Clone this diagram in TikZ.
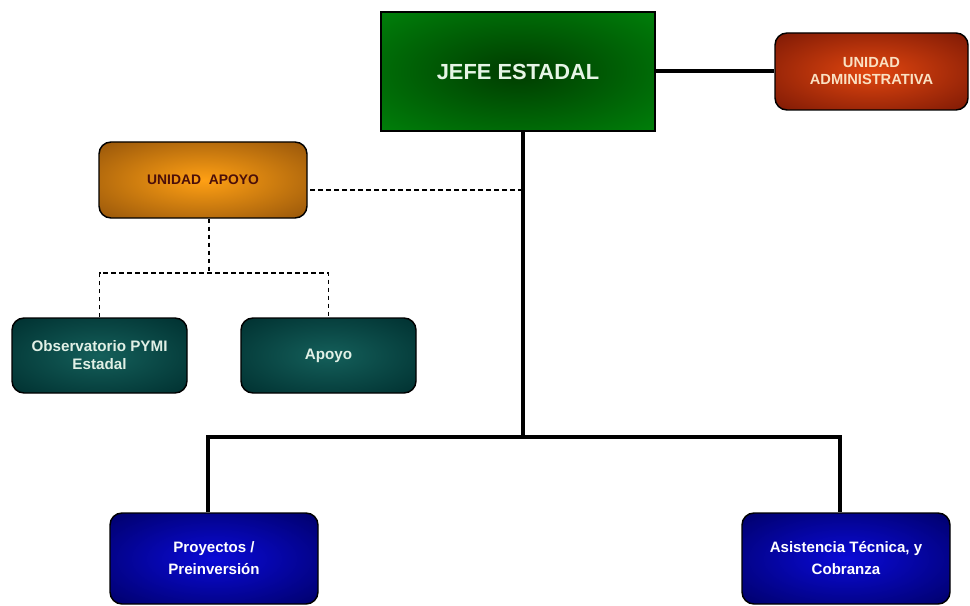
\documentclass[tikz,border=0pt]{standalone}
\usepackage{fontspec}
\setmainfont{Liberation Sans}
\makeatletter
\pgfdeclareradialshading[tikz@radial@inner,tikz@radial@outer]{glow}{\pgfpointorigin}{color(0bp)=(tikz@radial@inner); color(36bp)=(tikz@radial@outer); color(50bp)=(tikz@radial@outer)}
\makeatother
\definecolor{jefein}{RGB}{0,60,0}
\definecolor{jefeout}{RGB}{0,128,10}
\definecolor{admin}{RGB}{225,70,15}
\definecolor{adminout}{RGB}{125,25,5}
\definecolor{admintext}{RGB}{250,225,195}
\definecolor{apoyoin}{RGB}{255,160,20}
\definecolor{apoyoout}{RGB}{150,85,10}
\definecolor{apoyotext}{RGB}{75,15,10}
\definecolor{tealin}{RGB}{20,95,90}
\definecolor{tealout}{RGB}{0,48,48}
\definecolor{tealtext}{RGB}{225,240,230}
\definecolor{azulin}{RGB}{10,10,215}
\definecolor{azulout}{RGB}{0,0,105}
\begin{document}
\begin{tikzpicture}[x=0.75pt,y=-0.75pt,font=\bfseries,
	caja/.style n args={2}{draw=black,line width=1.1pt,rounded corners=9pt,align=center,inner sep=0pt,inner color=#1,outer color=#2,shading=glow},
	linea/.style={line width=3pt},
	punteado/.style={line width=0.8pt,dash pattern=on 3.5pt off 2.5pt}]
	\useasboundingbox (0,0) rectangle (970,606);
	\node[caja={jefein}{jefeout},sharp corners,minimum width=205.5pt,minimum height=89.25pt,text={rgb,255:red,230;green,245;blue,230},font=\bfseries\fontsize{16.4}{19}\selectfont] (jefe) at (518,71.5) {JEFE ESTADAL};
	\node[caja={admin}{adminout},minimum width=144.75pt,minimum height=57.75pt,text=admintext,font=\bfseries\fontsize{11}{12.75}\selectfont] (unadm) at (871.5,71.5) {UNIDAD\\ADMINISTRATIVA};
	\node[caja={apoyoin}{apoyoout},minimum width=156pt,minimum height=57pt,text=apoyotext,font=\bfseries\fontsize{10.4}{12}\selectfont] (unapoyo) at (203,180) {UNIDAD~~APOYO};
	\node[caja={tealin}{tealout},minimum width=131.25pt,minimum height=56.25pt,text=tealtext,font=\bfseries\fontsize{11.4}{13.5}\selectfont] (obs) at (99.5,355.5) {Observatorio PYMI\\Estadal};
	\node[caja={tealin}{tealout},minimum width=131.25pt,minimum height=56.25pt,text=tealtext,font=\bfseries\fontsize{11.4}{13.5}\selectfont] (apoyo) at (328.5,355.5) {Apoyo};
	\node[caja={azulin}{azulout},minimum width=156pt,minimum height=68.25pt,text=white,font=\bfseries\fontsize{11.3}{16.5}\selectfont] (proy) at (214,558.5) {Proyectos /\\Preinversión};
	\node[caja={azulin}{azulout},minimum width=156pt,minimum height=68.25pt,text=white,font=\bfseries\fontsize{11.3}{16.5}\selectfont] (asis) at (846,558.5) {Asistencia Técnica, y\\Cobranza};
	% lineas
	\coordinate (rama) at (523,190);
	\coordinate (nudo) at (523,437);
	\coordinate (bajo) at (209,273);
	\draw[linea] (jefe) -- (unadm);
	\draw[linea] (jefe.south -| nudo) -- (nudo);
	\draw[linea] ([xshift=-4.5pt]proy.north) |- (nudo) -| ([xshift=-4.5pt]asis.north);
	\draw[punteado] (rama) -- (unapoyo.east |- rama);
	\draw[punteado] (unapoyo.south -| bajo) -- (bajo);
	\draw[punteado] (obs.north) |- (bajo) -| (apoyo.north);
\end{tikzpicture}
\end{document}
